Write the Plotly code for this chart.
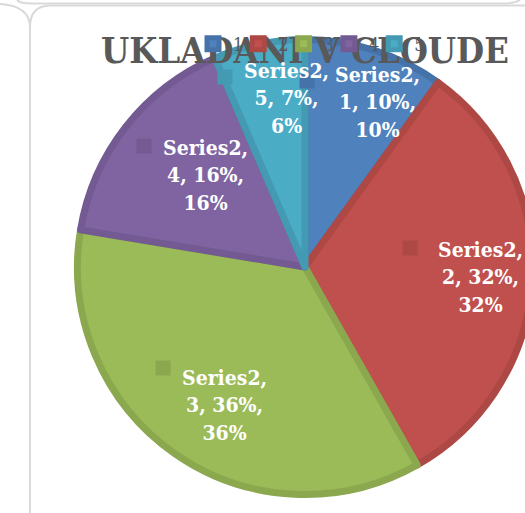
import math
import plotly.graph_objects as go

# ---- data ----
categories = ["1", "2", "3", "4", "5"]
values = [10, 32, 36, 16, 6.5]
series_name = "Series2"
title_text = "UKLADANI V CLOUDE"

# ---- style ----
fill_colors = ["#4F81BD", "#C0504D", "#9BBB59", "#8064A2", "#4BACC6"]
edge_colors = ["#4572A8", "#AD4845", "#8BA84F", "#735A92", "#439AB2"]
label_radius = [0.78, 0.76, 0.69, 0.585, 0.735]
label_angle_shift = [5.7, 0.2, -4.6, 4.8, 5.5]
SERIF = "DejaVu Serif Condensed, DejaVu Serif, serif"

W, H = 560, 513
CX, CY, R = 305, 267, 231
STROKE = 7
R_DOM = R - STROKE / 2

def px(x):
    return x / W

def py(y):
    return 1 - y / H

fig = go.Figure()
fig.add_trace(go.Pie(
    labels=categories,
    values=values,
    sort=False,
    direction="clockwise",
    rotation=0,
    textinfo="none",
    hoverinfo="skip",
    marker=dict(colors=fill_colors, line=dict(color=edge_colors, width=STROKE)),
    domain=dict(x=[px(CX - R_DOM), px(CX + R_DOM)], y=[py(CY + R_DOM), py(CY - R_DOM)]),
    showlegend=True,
))

label_font = dict(family=SERIF, size=21, color="white", weight="bold")
annotations = []
total = sum(values)
cum = 0.0
for i, v in enumerate(values):
    a0 = cum / total * 360
    cum += v
    a1 = cum / total * 360
    mid = math.radians((a0 + a1) / 2 + label_angle_shift[i])
    r = label_radius[i] * R
    lx = CX + r * math.sin(mid)
    ly = CY - r * math.cos(mid)
    val_lbl = f"{int(math.floor(v + 0.5))}%"
    pct_lbl = f"{int(math.floor(v / total * 100 + 0.5))}%"
    txt = f"{series_name},<br>{categories[i]}, {val_lbl},<br>{pct_lbl}"
    annotations.append(dict(
        x=px(lx), y=py(ly), xref="paper", yref="paper", text=" ",
        showarrow=False, width=12, height=12, borderpad=1, bgcolor=edge_colors[i],
        font=dict(size=6), xshift=-62, yshift=29,
    ))
    annotations.append(dict(
        x=px(lx), y=py(ly), xref="paper", yref="paper", text=txt,
        showarrow=False, align="center", xanchor="center", yanchor="middle",
        font=label_font,
    ))

frame_color = "#D9D9D9"
shapes = [
    dict(type="path", xref="paper", yref="paper",
         path=f"M {px(17)},{py(0)} Q {px(20)},{py(3.5)} {px(32)},{py(3.5)} L {px(503)},{py(3.5)} Q {px(515)},{py(3.5)} {px(520)},{py(0)}",
         line=dict(color=frame_color, width=2)),
    dict(type="path", xref="paper", yref="paper",
         path=f"M {px(0)},{py(4)} Q {px(30)},{py(6)} {px(30)},{py(27)}",
         line=dict(color=frame_color, width=2)),
    dict(type="path", xref="paper", yref="paper",
         path=f"M {px(30)},{py(515)} L {px(30)},{py(27)} Q {px(30)},{py(6)} {px(50)},{py(5.5)} L {px(530)},{py(5.5)}",
         line=dict(color=frame_color, width=2)),
    # chart title (drawn in the upper shape layer so the legend sits on top of it)
    dict(type="rect", xref="paper", yref="paper", layer="above",
         x0=px(85), x1=px(525), y0=py(68), y1=py(28),
         line=dict(width=0), fillcolor="rgba(0,0,0,0)",
         label=dict(text=f"<b>{title_text}</b>", textposition="middle center",
                    font=dict(family=SERIF, size=36, color="#595959"))),
]

fig.update_layout(
    width=W, height=H, autosize=False,
    margin=dict(l=0, r=0, t=0, b=0),
    paper_bgcolor="white", plot_bgcolor="white",
    showlegend=True,
    legend=dict(orientation="h", x=px(193), y=py(44), xanchor="left", yanchor="middle",
                entrywidth=0.3, entrywidthmode="pixels", traceorder="normal",
                font=dict(family=SERIF, size=18, color="#595959"),
                bgcolor="rgba(0,0,0,0)"),
    annotations=annotations,
    shapes=shapes,
)

fig.write_html("out.html", config={"displayModeBar": False},
               post_script="document.body.style.margin='0';document.body.style.overflow='hidden';")
